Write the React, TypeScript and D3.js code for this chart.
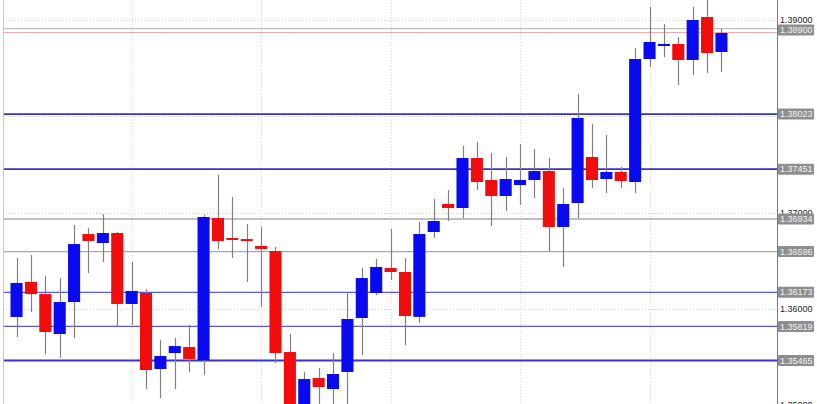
import * as d3 from 'd3';
import { useRef, useEffect } from "react"

// candle prices (open, high, low, close)
const opens = [1.35917, 1.36280, 1.36155, 1.35740, 1.36072, 1.36778, 1.36685, 1.36789, 1.36052, 1.36166,
    1.35377, 1.35543, 1.35605, 1.35470, 1.36944, 1.36737, 1.36726, 1.36654, 1.36602, 1.35553,
    1.34847, 1.35283, 1.35169, 1.35346, 1.35906, 1.36166, 1.36425, 1.36384, 1.35918, 1.36799,
    1.37090, 1.37048, 1.37567, 1.37339, 1.37173, 1.37287, 1.37339, 1.37432, 1.36851, 1.37100,
    1.37578, 1.37349, 1.37422, 1.37318, 1.38595, 1.38730, 1.38751, 1.38585, 1.39031, 1.38668]
const highs = [1.36529, 1.36560, 1.36342, 1.36321, 1.36872, 1.36841, 1.36986, 1.36800, 1.36488, 1.36207,
    1.35678, 1.35698, 1.35834, 1.36976, 1.37391, 1.37162, 1.36882, 1.36851, 1.36643, 1.35740,
    1.35346, 1.35387, 1.35543, 1.36176, 1.36425, 1.36519, 1.36830, 1.36529, 1.36903, 1.37142,
    1.37235, 1.37692, 1.37733, 1.37619, 1.37578, 1.37713, 1.37661, 1.37567, 1.37256, 1.38232,
    1.37920, 1.37806, 1.37474, 1.38709, 1.39135, 1.38958, 1.38824, 1.39135, 1.39208, 1.38907]
const lows = [1.35709, 1.35968, 1.35532, 1.35491, 1.35698, 1.36373, 1.36488, 1.35813, 1.35834, 1.35169,
    1.35076, 1.35169, 1.35346, 1.35314, 1.36623, 1.36529, 1.36280, 1.36020, 1.35439, 1.34795,
    1.34743, 1.34847, 1.34899, 1.34951, 1.35522, 1.36145, 1.36301, 1.35626, 1.35855, 1.36737,
    1.36913, 1.36944, 1.37235, 1.36861, 1.37017, 1.37079, 1.37152, 1.36602, 1.36436, 1.36944,
    1.37256, 1.37204, 1.37256, 1.37204, 1.38512, 1.38616, 1.38325, 1.38429, 1.38450, 1.38460]
const closes = [1.36270, 1.36155, 1.35761, 1.36072, 1.36674, 1.36706, 1.36789, 1.36052, 1.36187, 1.35366,
    1.35512, 1.35615, 1.35481, 1.36955, 1.36706, 1.36721, 1.36706, 1.36623, 1.35543, 1.34899,
    1.35273, 1.35190, 1.35325, 1.35896, 1.36321, 1.36436, 1.36384, 1.35927, 1.36778, 1.36913,
    1.37048, 1.37567, 1.37318, 1.37173, 1.37349, 1.37339, 1.37432, 1.36851, 1.37090, 1.37983,
    1.37339, 1.37422, 1.37328, 1.38595, 1.38772, 1.38751, 1.38585, 1.39000, 1.38657, 1.38865]

const yTicks = [1.35, 1.36, 1.37, 1.38, 1.39]
// 1.38000 is hidden under the 1.38023 box in the picture
const yTickLabels = [1.35, 1.36, 1.37, 1.39]
const blueLevels = [1.38023, 1.37451, 1.36173, 1.35819, 1.35465]
const grayLevels = [1.36934, 1.36596]
const askLevel = 1.38910
const bidLevel = 1.38870
const boxLabels = ["1.38900", "1.38023", "1.37451", "1.36934", "1.36596", "1.36173", "1.35819", "1.35465"]
const boxValues = [1.38895, 1.38023, 1.37451, 1.36934, 1.36596, 1.36173, 1.35819, 1.35465]
const vGridIdx = [8, 17, 26, 35, 44]

function App() {
    const ref = useRef<SVGSVGElement | null>(null)

    useEffect(() => {
        renderChart();
    }, [])

    function renderChart() {
        const width = 817
        const height = 404
        const plotRight = 777
        const plotLeft = 3

        const svg = d3.select(ref.current!)
        svg.selectAll("*").remove()

        svg.append("rect").attr("width", width).attr("height", height).attr("fill", "#ffffff")

        const idx = d3.range(opens.length)
        const x = d3.scaleBand<number>()
            .domain(idx)
            .range([10.5, 727.5])
            .paddingInner(0.16)
            .paddingOuter(0)

        const y = d3.scaleLinear()
            .domain([1.35, 1.39])
            .range([405.3, 20])

        const cx = (i: number) => x(i)! + x.bandwidth() / 2

        // dotted grid
        svg.append("g")
            .selectAll("line")
            .data(yTicks)
            .enter()
            .append("line")
            .attr("x1", plotLeft).attr("x2", plotRight)
            .attr("y1", d => Math.round(y(d)) + 0.5).attr("y2", d => Math.round(y(d)) + 0.5)
            .attr("stroke", "#cfcfcf")
            .attr("stroke-dasharray", "1,2")
        svg.append("g")
            .selectAll("line")
            .data(vGridIdx)
            .enter()
            .append("line")
            .attr("x1", d => Math.round(cx(d)) + 0.5).attr("x2", d => Math.round(cx(d)) + 0.5)
            .attr("y1", 0).attr("y2", height)
            .attr("stroke", "#d4d4d4")
            .attr("stroke-dasharray", "1,2")

        // level lines
        svg.append("g")
            .selectAll("line")
            .data(grayLevels)
            .enter()
            .append("line")
            .attr("x1", plotLeft).attr("x2", plotRight)
            .attr("y1", d => y(d)).attr("y2", d => y(d))
            .attr("stroke", "#a8a8a8")
            .attr("stroke-width", 1.3)
        svg.append("g")
            .selectAll("line")
            .data(blueLevels)
            .enter()
            .append("line")
            .attr("x1", plotLeft).attr("x2", plotRight)
            .attr("y1", d => y(d)).attr("y2", d => y(d))
            .attr("stroke", (d, i) => (i === 2 || i === 3) ? "#5a5ad8" : "#3434c8")
            .attr("stroke-width", (d, i) => (i === 2 || i === 3) ? 1.2 : 1.8)
        svg.append("line")
            .attr("x1", plotLeft).attr("x2", plotRight)
            .attr("y1", y(askLevel)).attr("y2", y(askLevel))
            .attr("stroke", "#b0b0b0")
        svg.append("line")
            .attr("x1", plotLeft).attr("x2", plotRight)
            .attr("y1", y(bidLevel)).attr("y2", y(bidLevel))
            .attr("stroke", "#f0a8a8")

        // wicks
        svg.append("g")
            .selectAll("line")
            .data(idx)
            .enter()
            .append("line")
            .attr("x1", i => Math.round(cx(i)) + 0.5).attr("x2", i => Math.round(cx(i)) + 0.5)
            .attr("y1", i => y(highs[i])).attr("y2", i => y(lows[i]))
            .attr("stroke", "#808080")
            .attr("stroke-width", 1.2)

        // bodies
        svg.append("g")
            .selectAll("rect")
            .data(idx)
            .enter()
            .append("rect")
            .attr("x", i => x(i)!)
            .attr("width", x.bandwidth())
            .attr("y", i => y(Math.max(opens[i], closes[i])))
            .attr("height", i => Math.max(2, Math.abs(y(opens[i]) - y(closes[i]))))
            .attr("fill", i => closes[i] >= opens[i] ? "#0a0af0" : "#f20d0d")

        // frame
        svg.append("line")
            .attr("x1", plotRight + 0.5).attr("x2", plotRight + 0.5)
            .attr("y1", 0).attr("y2", height)
            .attr("stroke", "#7a7a7a")
        svg.append("line")
            .attr("x1", plotLeft + 0.5).attr("x2", plotLeft + 0.5)
            .attr("y1", 0).attr("y2", height)
            .attr("stroke", "#c8c8c8")

        // tick labels
        svg.append("g")
            .selectAll("text")
            .data(yTickLabels)
            .enter()
            .append("text")
            .attr("x", plotRight + 3)
            .attr("y", d => y(d))
            .attr("dy", "0.35em")
            .attr("font-family", "Liberation Sans, Arial, sans-serif")
            .attr("font-size", 9)
            .attr("fill", "#222")
            .text(d => d.toFixed(5))

        // price boxes
        const boxes = svg.append("g")
            .selectAll("g")
            .data(boxValues)
            .enter()
            .append("g")
            .attr("transform", d => `translate(${plotRight + 1},${y(d)})`)
        boxes.append("rect")
            .attr("x", 0).attr("y", -5.5)
            .attr("width", 36).attr("height", 11)
            .attr("rx", 1)
            .attr("fill", "#8e8e8e")
        boxes.append("text")
            .attr("x", 2).attr("y", 0)
            .attr("dy", "0.35em")
            .attr("font-family", "Liberation Sans, Arial, sans-serif")
            .attr("font-size", 9)
            .attr("fill", "#f4f4f4")
            .text((d, i) => boxLabels[i])
    }

    return (
        <div style={{ position: 'absolute', left: 0, top: 0 }}>
            <svg width={817} height={404} ref={ref} style={{ display: 'block' }} />
        </div>
    )
}

export default App;
